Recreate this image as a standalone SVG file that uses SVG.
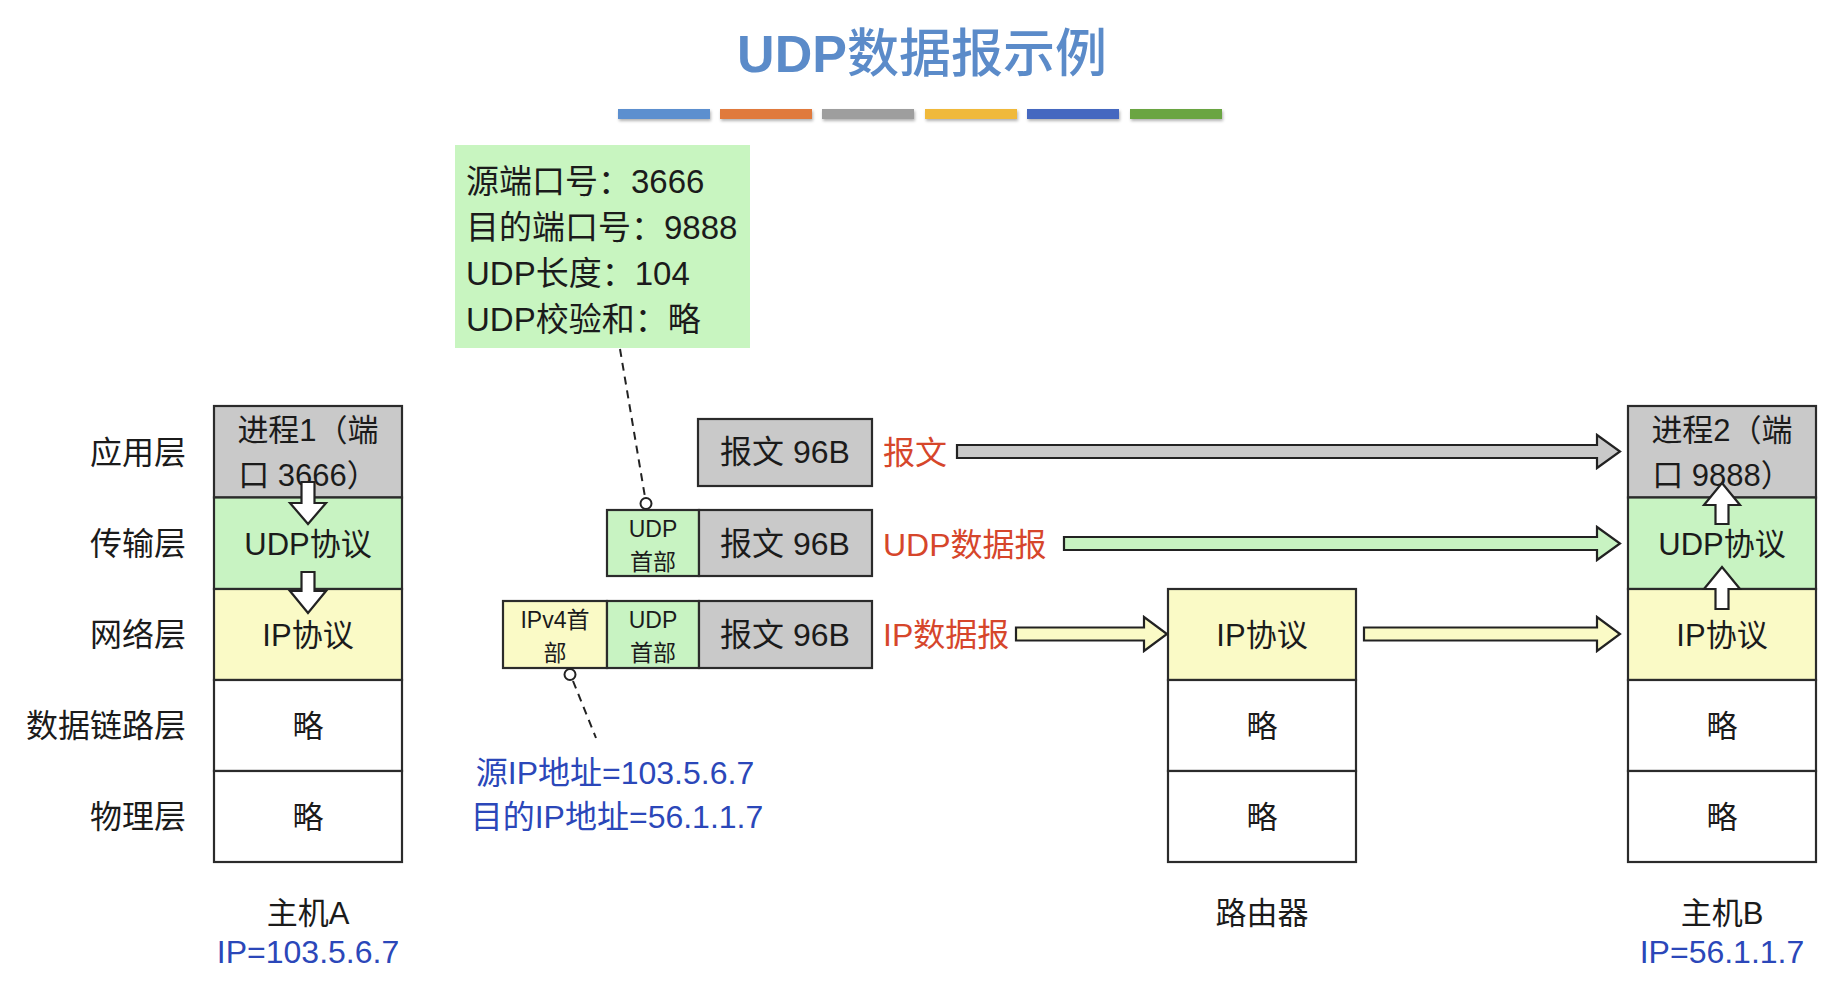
<svg xmlns="http://www.w3.org/2000/svg" width="1846" height="999" viewBox="0 0 1846 999">
  <defs>
    <filter id="barShadow" x="-5%" y="-50%" width="110%" height="220%">
      <feDropShadow dx="1" dy="2" stdDeviation="1.4" flood-color="#000" flood-opacity="0.3"/>
    </filter>
    <style>
      text { font-family: "Liberation Sans", "Noto Sans CJK SC", sans-serif; fill: #1b1b1b; }
      .cell { stroke: #2b2b2b; stroke-width: 2.2; }
      .gray { fill: #c9c9c9; }
      .green { fill: #c8f3c2; }
      .yellow { fill: #fafac6; }
      .white { fill: #ffffff; }
      .lbl { font-size: 32px; text-anchor: end; }
      .cellText { font-size: 31px; text-anchor: middle; }
      .pkt { font-size: 32px; text-anchor: middle; }
      .hdr { font-size: 23px; text-anchor: middle; }
      .red { font-size: 32px; fill: #d6462b; }
      .blue { font-size: 32px; fill: #2b47b9; text-anchor: middle; }
      .cap { font-size: 31px; text-anchor: middle; }
      .info { font-size: 33px; }
      .flow { stroke: #222; stroke-width: 2.2; stroke-linejoin: miter; }
      .dash { stroke: #222; stroke-width: 2; stroke-dasharray: 8 6; fill: none; }
      .pin { fill: #fff; stroke: #222; stroke-width: 2; }
    </style>
  </defs>

  <rect width="1846" height="999" fill="#ffffff"/>

  <!-- heading -->
  <g id="title">
    <text x="922" y="72" text-anchor="middle" font-size="52" style="fill:#5b8bc9"><tspan font-weight="bold">UDP</tspan><tspan font-weight="500">数据报示例</tspan></text>
  </g>

  <!-- colour strip under the heading -->
  <g id="colour-bars" filter="url(#barShadow)">
    <rect x="618" y="109" width="92" height="10" fill="#5b8fcf"/>
    <rect x="720" y="109" width="92" height="10" fill="#e07a3c"/>
    <rect x="822" y="109" width="92" height="10" fill="#9e9e9e"/>
    <rect x="925" y="109" width="92" height="10" fill="#f0b93a"/>
    <rect x="1027" y="109" width="92" height="10" fill="#4467c0"/>
    <rect x="1130" y="109" width="92" height="10" fill="#6aa543"/>
  </g>

  <!-- layer names -->
  <g id="layer-names">
    <text class="lbl" x="186" y="464">应用层</text>
    <text class="lbl" x="186" y="555">传输层</text>
    <text class="lbl" x="186" y="646">网络层</text>
    <text class="lbl" x="186" y="737">数据链路层</text>
    <text class="lbl" x="186" y="828">物理层</text>
  </g>

  <!-- host A protocol stack -->
  <g id="host-a">
    <rect class="cell gray" x="214" y="406" width="188" height="91.5"/>
    <rect class="cell green" x="214" y="497.5" width="188" height="91.5"/>
    <rect class="cell yellow" x="214" y="589" width="188" height="91"/>
    <rect class="cell white" x="214" y="680" width="188" height="91"/>
    <rect class="cell white" x="214" y="771" width="188" height="91"/>
    <text class="cellText" x="308" y="441">进程1（端</text>
    <text class="cellText" x="308" y="486">口 3666）</text>
    <text class="cellText" x="308" y="555">UDP协议</text>
    <text class="cellText" x="308" y="646">IP协议</text>
    <text class="cellText" x="308" y="737">略</text>
    <text class="cellText" x="308" y="828">略</text>
    <text class="cap" x="308" y="924">主机A</text>
    <text class="blue" x="308" y="963">IP=103.5.6.7</text>
  </g>

  <!-- router stack -->
  <g id="router">
    <rect class="cell yellow" x="1168" y="589" width="188" height="91"/>
    <rect class="cell white" x="1168" y="680" width="188" height="91"/>
    <rect class="cell white" x="1168" y="771" width="188" height="91"/>
    <text class="cellText" x="1262" y="646">IP协议</text>
    <text class="cellText" x="1262" y="737">略</text>
    <text class="cellText" x="1262" y="828">略</text>
    <text class="cap" x="1262" y="924">路由器</text>
  </g>

  <!-- host B protocol stack -->
  <g id="host-b">
    <rect class="cell gray" x="1628" y="406" width="188" height="91.5"/>
    <rect class="cell green" x="1628" y="497.5" width="188" height="91.5"/>
    <rect class="cell yellow" x="1628" y="589" width="188" height="91"/>
    <rect class="cell white" x="1628" y="680" width="188" height="91"/>
    <rect class="cell white" x="1628" y="771" width="188" height="91"/>
    <text class="cellText" x="1722" y="441">进程2（端</text>
    <text class="cellText" x="1722" y="486">口 9888）</text>
    <text class="cellText" x="1722" y="555">UDP协议</text>
    <text class="cellText" x="1722" y="646">IP协议</text>
    <text class="cellText" x="1722" y="737">略</text>
    <text class="cellText" x="1722" y="828">略</text>
    <text class="cap" x="1722" y="924">主机B</text>
    <text class="blue" x="1722" y="963">IP=56.1.1.7</text>
  </g>

  <!-- UDP header field values -->
  <g id="udp-header-fields">
    <rect x="455" y="145" width="295" height="203" fill="#c8f5c0"/>
    <text class="info" x="466" y="193">源端口号：3666</text>
    <text class="info" x="466" y="239">目的端口号：9888</text>
    <text class="info" x="466" y="285">UDP长度：104</text>
    <text class="info" x="466" y="331">UDP校验和：略</text>
  </g>

  <!-- application message -->
  <g id="message">
    <rect class="cell gray" x="698" y="419" width="174" height="67"/>
    <text class="pkt" x="785" y="463">报文 96B</text>
    <text class="red" x="883" y="464">报文</text>
  </g>

  <!-- UDP datagram -->
  <g id="udp-datagram">
    <rect class="cell green" x="607" y="510" width="92" height="66"/>
    <rect class="cell gray" x="699" y="510" width="173" height="66"/>
    <text class="hdr" x="653" y="537">UDP</text>
    <text class="hdr" x="653" y="570">首部</text>
    <text class="pkt" x="785" y="555">报文 96B</text>
    <text class="red" x="883" y="556">UDP数据报</text>
  </g>

  <!-- IP datagram -->
  <g id="ip-datagram">
    <rect class="cell yellow" x="503" y="601" width="104" height="67"/>
    <rect class="cell green" x="607" y="601" width="92" height="67"/>
    <rect class="cell gray" x="699" y="601" width="173" height="67"/>
    <text class="hdr" x="555" y="628">IPv4首</text>
    <text class="hdr" x="555" y="661">部</text>
    <text class="hdr" x="653" y="628">UDP</text>
    <text class="hdr" x="653" y="661">首部</text>
    <text class="pkt" x="785" y="646">报文 96B</text>
    <text class="red" x="883" y="646">IP数据报</text>
  </g>

  <!-- IP header addresses -->
  <g id="ip-header-fields">
    <text class="blue" x="615" y="784">源IP地址=103.5.6.7</text>
    <text class="blue" x="617" y="828">目的IP地址=56.1.1.7</text>
  </g>

  <!-- connectors: callout leaders, transfer arrows and in-stack arrows -->
  <g id="connectors">
    <line class="dash" x1="620" y1="349" x2="645" y2="497"/>
    <circle class="pin" cx="646" cy="503.5" r="5.5"/>
    <circle class="pin" cx="570" cy="674.5" r="5.5"/>
    <line class="dash" x1="573" y1="681" x2="596" y2="738"/>

    <path class="flow" fill="#c9c9c9" d="M957,445 L1597,445 L1597,435 L1620,451.5 L1597,468 L1597,458 L957,458 Z"/>
    <path class="flow" fill="#c8f3c2" d="M1064,537 L1597,537 L1597,527 L1620,543.5 L1597,560 L1597,550 L1064,550 Z"/>
    <path class="flow" fill="#fafac6" d="M1016,627.5 L1144,627.5 L1144,617 L1167,634 L1144,651 L1144,640.5 L1016,640.5 Z"/>
    <path class="flow" fill="#fafac6" d="M1364,627.5 L1597,627.5 L1597,617 L1620,634 L1597,651 L1597,640.5 L1364,640.5 Z"/>

    <path class="flow" fill="#ffffff" d="M301.5,482 L314.5,482 L314.5,503 L326,503 L308,524 L290,503 L301.5,503 Z"/>
    <path class="flow" fill="#ffffff" d="M301.5,572 L314.5,572 L314.5,591 L326,591 L308,613 L290,591 L301.5,591 Z"/>
    <path class="flow" fill="#ffffff" d="M1715.5,524 L1728.5,524 L1728.5,505 L1740,505 L1722,483 L1704,505 L1715.5,505 Z"/>
    <path class="flow" fill="#ffffff" d="M1715.5,609 L1728.5,609 L1728.5,589 L1740,589 L1722,567 L1704,589 L1715.5,589 Z"/>
  </g>
</svg>
